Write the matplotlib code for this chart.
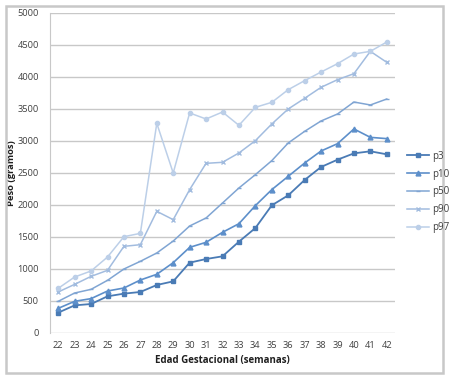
import matplotlib.pyplot as plt
from matplotlib.patches import Rectangle

semanas = list(range(22, 43))
p3 = [318, 432, 453, 573, 615, 641, 750, 807, 1099, 1156, 1198, 1427, 1640, 1995, 2151, 2391, 2594, 2708, 2807, 2839, 2792]
p10 = [385, 495, 537, 656, 703, 828, 917, 1099, 1338, 1417, 1573, 1708, 1990, 2240, 2448, 2656, 2844, 2958, 3188, 3057, 3037]
p50 = [495, 625, 682, 823, 1000, 1120, 1250, 1437, 1672, 1797, 2031, 2266, 2474, 2693, 2969, 3151, 3313, 3422, 3609, 3563, 3656]
p90 = [641, 760, 885, 979, 1354, 1380, 1901, 1771, 2240, 2651, 2667, 2813, 3005, 3266, 3500, 3667, 3839, 3958, 4052, 4401, 4229]
p97 = [698, 875, 969, 1187, 1505, 1557, 3276, 2500, 3438, 3344, 3453, 3245, 3526, 3604, 3802, 3943, 4078, 4208, 4359, 4401, 4547]

plt.rcParams['font.family'] = ['Open Sans', 'DejaVu Sans']

fig = plt.figure(figsize=(4.54, 3.82), dpi=100)
ax = fig.add_axes([50/454, 1 - 333/382, 345/454, 320/382])

ax.plot(semanas, p3, color='#4a7bb5', marker='s', markersize=3.5, lw=1.3, label='p3')
ax.plot(semanas, p10, color='#5d8fca', marker='^', markersize=3.5, lw=1.2, label='p10')
ax.plot(semanas, p50, color='#80a5d3', marker='_', markersize=3, lw=1.1, label='p50')
ax.plot(semanas, p90, color='#a2bcdf', marker='x', markersize=2.5, lw=1.1, label='p90')
ax.plot(semanas, p97, color='#bccfe8', marker='o', markersize=3, lw=1.1, label='p97')

ax.set_xlim(21.5, 42.5)
ax.set_ylim(0, 5000)
ax.set_xticks(semanas)
ax.set_yticks(range(0, 5001, 500))
ax.grid(axis='y', color='#c8c8c8', lw=1)
ax.set_axisbelow(True)
for s in ['top', 'right', 'bottom']:
    ax.spines[s].set_visible(False)
ax.spines['left'].set_color('#c8c8c8')
ax.tick_params(length=0, labelsize=6.7, colors='#404040')
ax.tick_params(axis='y', pad=8)
ax.tick_params(axis='x', pad=6)
ax.set_xlabel('Edad Gestacional (semanas)', fontsize=7, fontweight='bold', color='#202020', labelpad=3)
ax.set_ylabel('Peso (gramos)', fontsize=6.8, fontweight='bold', color='#202020')
ax.yaxis.set_label_coords(-0.098, 0.5)

fig.legend(loc='upper left', bbox_to_anchor=(398/454, 1 - 142/382), frameon=False,
           fontsize=7, handlelength=2.3, labelspacing=0.7, handletextpad=0.3,
           labelcolor='#404040')

fig.patches.append(Rectangle((6/454, 1 - 373/382), 437/454, 367/382, transform=fig.transFigure,
                             fill=False, edgecolor='#c8c8c8', lw=1.8))

fig.savefig('out.png', dpi=100)
